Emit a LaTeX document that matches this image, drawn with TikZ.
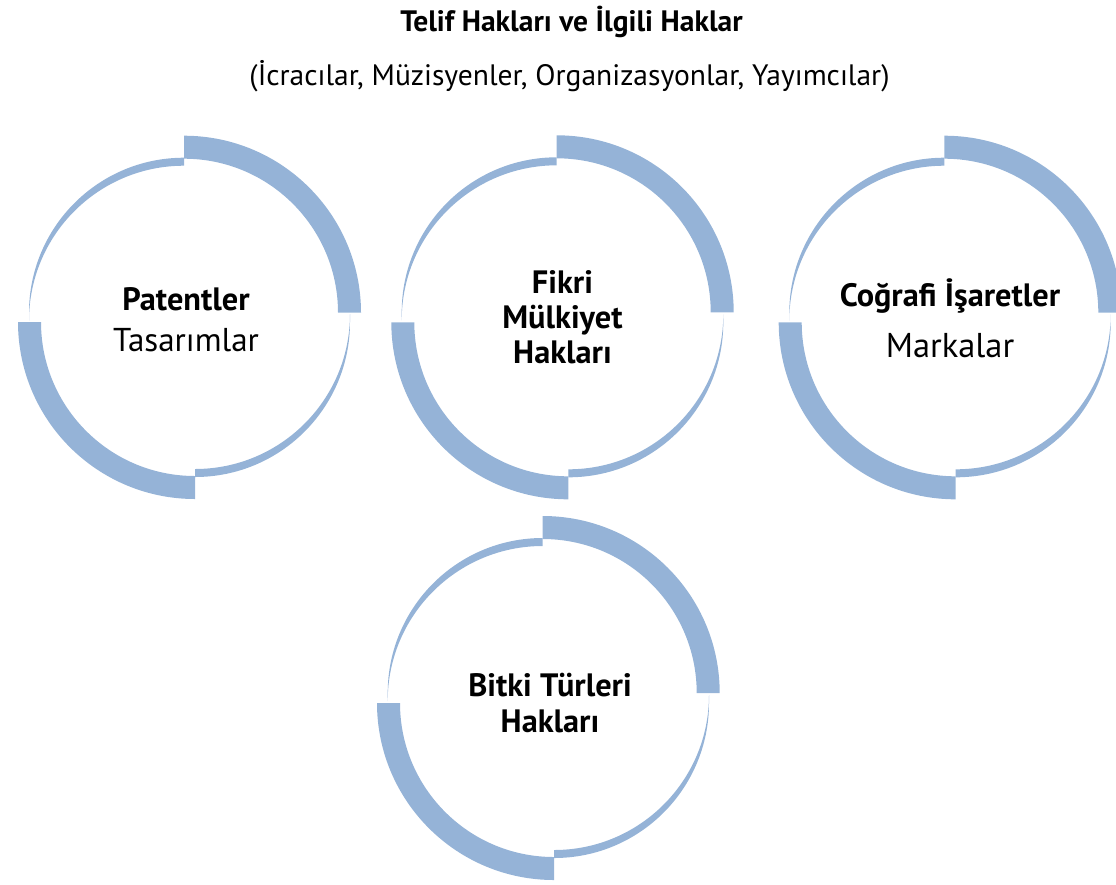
\documentclass[tikz,border=0pt]{standalone}
\usepackage{fontspec}
\setmainfont{PT Sans}
\usepackage{tikz}
\usetikzlibrary{positioning}
\definecolor{ringblue}{RGB}{149,179,215}

\tikzset{
  band/.style={fill=ringblue},
  heading/.style={anchor=base,font=\bfseries\fontsize{21}{26}\selectfont},
  subheading/.style={anchor=base,font=\fontsize{21}{26}\selectfont},
  ringtext/.style={align=center,font=\fontsize{23}{25}\selectfont},
}

\begin{document}
\begin{tikzpicture}[x=0.025cm,y=0.025cm]
    \useasboundingbox (0,0) rectangle (1116,-884);

    \foreach \ax/\ay/\bx/\by in {184/-312.7/195/-322, 556.7/-312.3/568.3/-322.3,
                                 944.3/-312.7/955.7/-322.3, 542.7/-693/554/-703}{
        \fill[band] (\ax+154,\ay) arc[start angle=0,end angle=90,radius=154]
            -- ++(0,23) arc[start angle=90,end angle=0,radius=177] -- cycle;
        \fill[band] (\bx-154,\by) arc[start angle=180,end angle=270,radius=154]
            -- ++(0,-23) arc[start angle=270,end angle=180,radius=177] -- cycle;
        \fill[band] (\ax,\ay+155) arc[start angle=90,end angle=180,radius=155]
            -- ++(0,-8) arc[start angle=180,end angle=90,radius=155] -- cycle;
        \fill[band] (\bx,\by-155) arc[start angle=270,end angle=360,radius=155]
            -- ++(0,8) arc[start angle=0,end angle=-90,radius=155] -- cycle;
    }

    \node[heading] (telif) at (571.5,-31.7) {Telif Hakları ve İlgili Haklar};
    \node[subheading] (sahipler) at (569.5,-85) {(İcracılar, Müzisyenler, Organizasyonlar, Yayımcılar)};

    \node[ringtext] (patent) at (186,-320) {\textbf{Patentler}\\[4pt]{\fontsize{23.5}{25}\selectfont Tasarımlar}};
    \node[ringtext] (fikri) at (562.5,-317) {\textbf{Fikri}\\\textbf{Mülkiyet}\\\textbf{Hakları}};
    \node[ringtext] (cografi) at (950,-318) {\textbf{Coğrafi İşaretler}\\[11pt]{\fontsize{24.5}{25}\selectfont Markalar}};
    \node[ringtext] (bitki) at (550,-703) {\textbf{Bitki Türleri}\\\textbf{Hakları}};
\end{tikzpicture}
\end{document}
